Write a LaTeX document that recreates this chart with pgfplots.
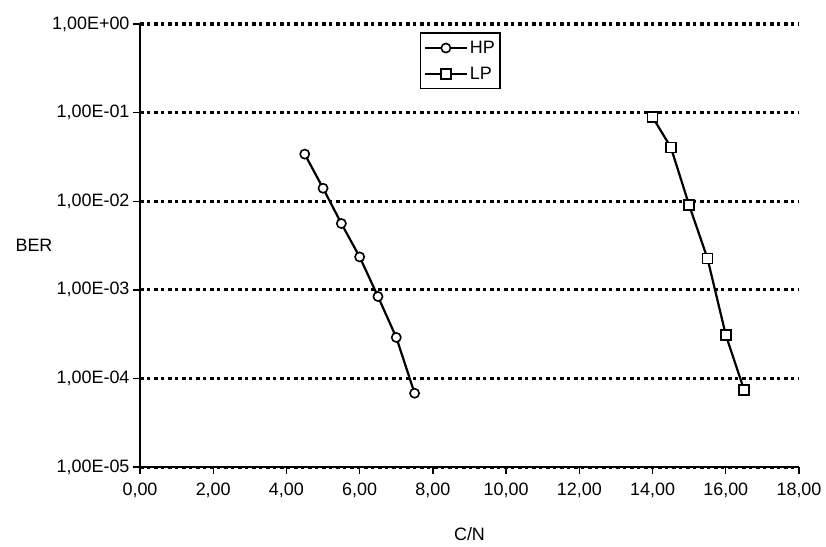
\documentclass[border=0pt]{standalone}
\usepackage{pgfplots}
\pgfplotsset{compat=1.18}
\usepackage{fontspec}
\setmainfont{Liberation Sans}
\begin{document}
\begin{tikzpicture}
\begin{axis}[
  scale only axis,
  width=659bp, height=443bp,
  xmin=0, xmax=18, ymin=1e-5, ymax=1,
  ymode=log, yminorticks=false,
  axis x line=bottom, axis y line=left,
  axis line style={-, line width=1.6bp, black},
  tick align=outside, major tick length=7bp,
  tick style={line width=1.4bp, black},
  xtick={0,2,...,18},
  xticklabels={{0,00},{2,00},{4,00},{6,00},{8,00},{10,00},{12,00},{14,00},{16,00},{18,00}},
  xticklabel style={yshift=-5bp},
  ytick={1e-5,1e-4,1e-3,1e-2,1e-1,1},
  yticklabels={{1,00E-05},{1,00E-04},{1,00E-03},{1,00E-02},{1,00E-01},{1,00E+00}},
  ymajorgrids,
  major grid style={line width=3bp, black, dash pattern=on 4bp off 3bp on 3bp off 4bp},
  font=\fontsize{18}{21}\selectfont,
  ticklabel style={font=\fontsize{18}{21}\selectfont},
  xlabel={C/N}, ylabel={BER},
  every axis x label/.style={at={(axis description cs:0.5,0)}, anchor=center, yshift=-67bp},
  every axis y label/.style={at={(axis description cs:0,0.5)}, anchor=center, xshift=-106bp},
  legend style={at={(axis description cs:0.425,0.981)}, anchor=north west, draw=black, line width=1.4bp,
    font=\fontsize{18}{21}\selectfont, row sep=8bp, inner xsep=3bp, inner ysep=6bp, fill=white},
  legend cell align=left,
  legend image code/.code={
    \draw[line width=2.2bp, mark repeat=2, mark phase=2] plot coordinates {(0bp,0bp) (21bp,0bp) (42bp,0bp)};
  },
  clip=false,
]
\addplot[black, line width=2.2bp, mark=*, mark size=4.6bp, mark options={fill=white, line width=1.6bp, solid}]
  coordinates {(4.5,3.4e-2) (5,1.4e-2) (5.5,5.6e-3) (6,2.35e-3) (6.5,8.4e-4) (7,2.9e-4) (7.5,6.8e-5)};
\addlegendentry{HP}
\addplot[black, line width=2.2bp, mark=square*, mark size=5bp, mark options={fill=white, line width=1.6bp, solid}]
  coordinates {(14,8.9e-2) (14.5,4.05e-2) (15,9.0e-3) (15.5,2.26e-3) (16,3.1e-4) (16.5,7.4e-5)};
\addlegendentry{LP}
\end{axis}
\pgfresetboundingbox
\useasboundingbox (-140bp,-80bp) rectangle (686bp,467bp);
\end{tikzpicture}
\end{document}
